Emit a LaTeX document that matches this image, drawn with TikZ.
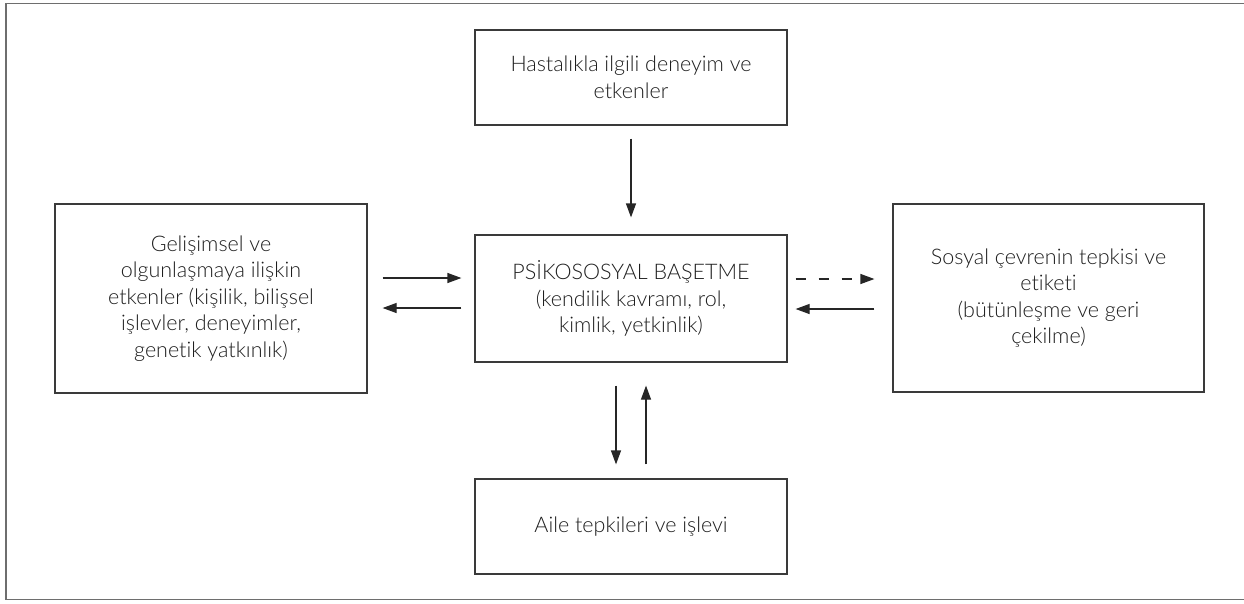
\documentclass[tikz,border=0pt]{standalone}
\usepackage{fontspec}
\setmainfont[Ligatures={NoCommon}]{Lato Light}
\usetikzlibrary{arrows.meta}
\definecolor{boxline}{HTML}{3A3A3A}
\definecolor{framecol}{HTML}{6E6E6E}
\definecolor{txt}{HTML}{1E1E1E}
\tikzset{
  box/.style={draw=boxline, line width=1.2pt, minimum width=312pt, align=center,
    text=txt, font=\fontsize{21.5pt}{26.5pt}\selectfont, inner sep=0pt},
  conn/.style={draw=black!85, line width=1.2pt, -{Triangle[length=14pt,width=10pt]}},
}
\begin{document}
\begin{tikzpicture}[x=1pt,y=-1pt]
\useasboundingbox (0,0) rectangle (1244,603);
\draw[framecol, line width=1.6pt] (1260,3.5) -- (6,3.5) -- (6,599.5) -- (1260,599.5);

\node[box, minimum height=95pt] (top) at (631,77.5) {Hastalıkla ilgili deneyim ve\\etkenler};
\node[box, minimum height=189pt] (left) at (211,298.5) {Gelişimsel ve\\olgunlaşmaya ilişkin\\etkenler (kişilik, bilişsel\\işlevler, deneyimler,\\genetik yatkınlık)};
\node[box, minimum height=127pt] (center) at (631,298.5) {PSİKOSOSYAL BAŞETME\\(kendilik kavramı, rol,\\kimlik, yetkinlik)};
\node[box, minimum height=188pt, minimum width=311pt] (right) at (1048.5,298) {Sosyal çevrenin tepkisi ve\\etiketi\\(bütünleşme ve geri\\çekilme)};
\node[box, minimum height=95pt] (bottom) at (631,526.5) {Aile tepkileri ve işlevi};

\draw[conn, shorten <=13pt, shorten >=17pt] (top.south) -- (center.north);

\draw[conn, shorten <=15pt, shorten >=13pt] ([yshift=20.5pt]left.east) -- ([yshift=20.5pt]center.west);
\draw[conn, shorten <=13pt, shorten >=15pt] ([yshift=-9.5pt]center.west) -- ([yshift=-9.5pt]left.east);

\draw[conn, dash pattern=on 10pt off 13pt, shorten <=8pt, shorten >=18pt] ([yshift=19.5pt]center.east) -- ([yshift=19pt]right.west);
\draw[conn, shorten <=18pt, shorten >=8pt] ([yshift=-11pt]right.west) -- ([yshift=-10.5pt]center.east);

\draw[conn, shorten <=23pt, shorten >=14pt] ([xshift=-15pt]center.south) -- ([xshift=-15pt]bottom.north);
\draw[conn, shorten <=14pt, shorten >=23pt] ([xshift=15pt]bottom.north) -- ([xshift=15pt]center.south);
\end{tikzpicture}
\end{document}
